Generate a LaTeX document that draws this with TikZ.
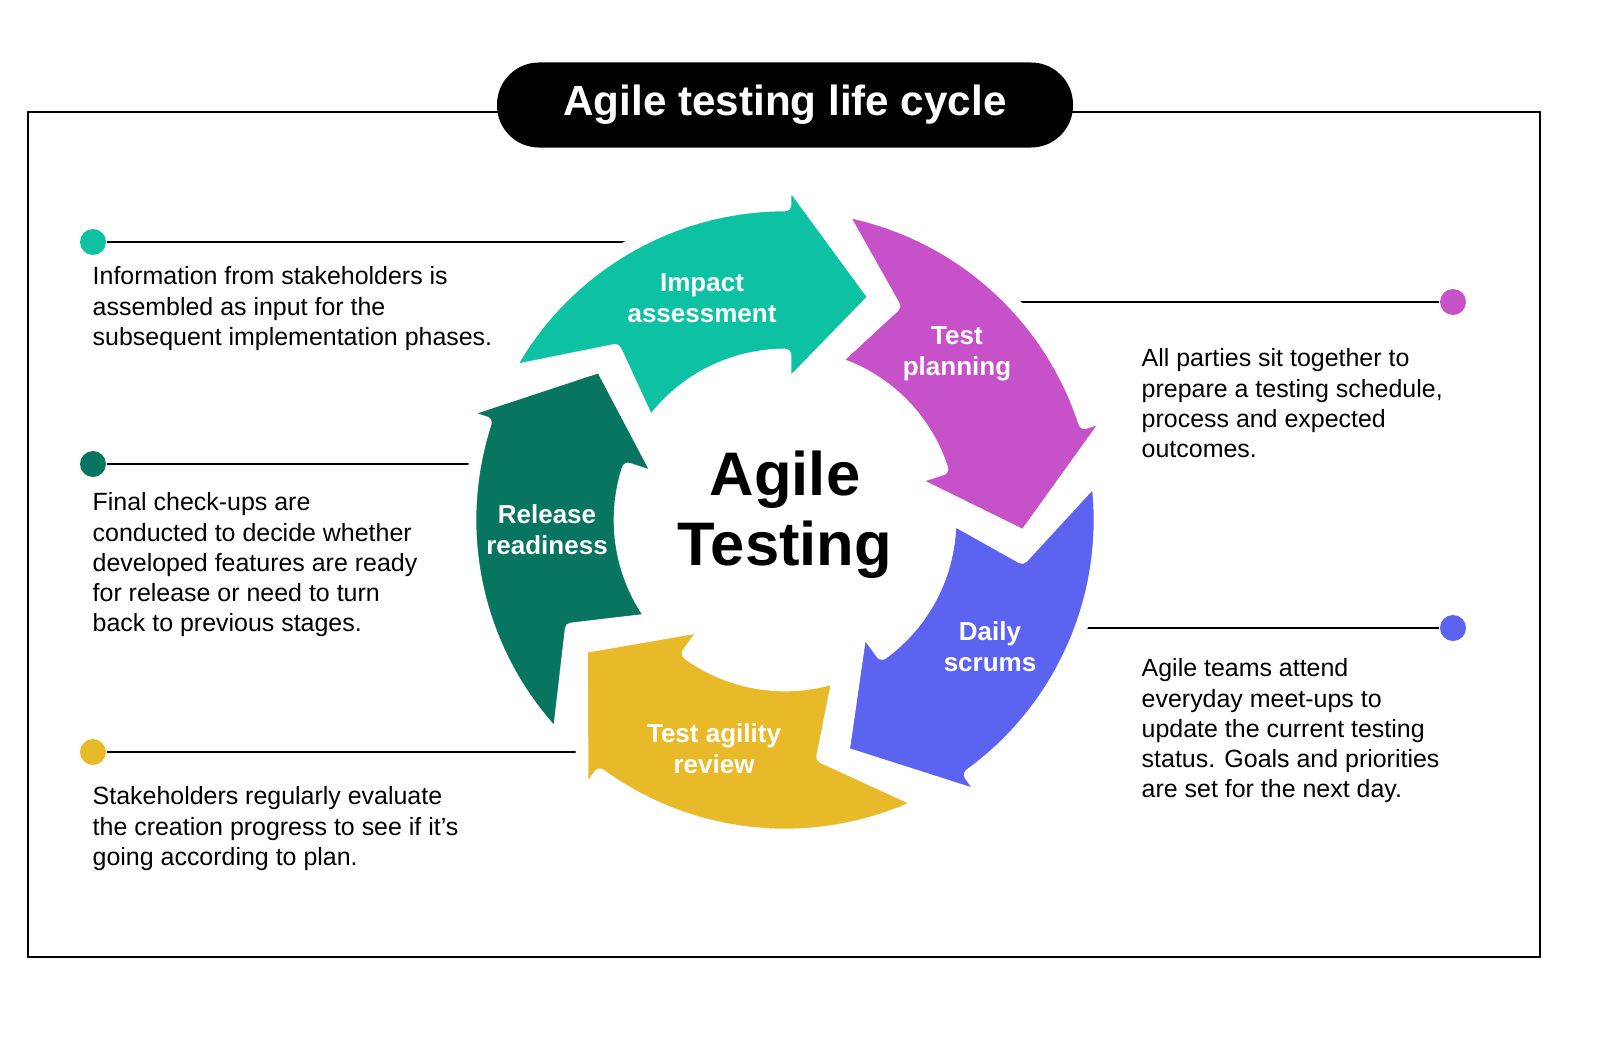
\documentclass[tikz,border=0pt]{standalone}
\usepackage{fontspec}
\setmainfont{Liberation Sans}
\begin{document}
\begin{tikzpicture}
\definecolor{cteal}{HTML}{0DC2A2}
\definecolor{cmag}{HTML}{C651C8}
\definecolor{cblue}{HTML}{5B63F0}
\definecolor{cyel}{HTML}{E8BA29}
\definecolor{cdk}{HTML}{077560}
\tikzset{
 desc/.style={anchor=north west,align=left,inner sep=0pt,font=\fontsize{7.1}{8.6}\selectfont},
 lab/.style={align=center,text=white,font=\bfseries\fontsize{7.4}{8.8}\selectfont},
 dot/.style={circle,inner sep=0pt,minimum size=0.26cm},
 lead/.style={line width=0.5pt}
}
\newcommand\agarrow[2]{\filldraw[fill=#2,draw=white,line width=3.6pt,line join=round]
 ({#1+62}:3.15) arc[start angle={#1+62},end angle={#1},radius=3.15] -- ({#1}:3.45) -- ({#1-22}:2.4) -- ({#1}:1.3) -- ({#1}:1.65) arc[start angle={#1},end angle={#1+55},radius=1.65] -- ({#1+45}:2.4) -- cycle;}
\useasboundingbox (0,0) rectangle (16,10.44);
\fill[white] (0,0) rectangle (16,10.44);
\draw[line width=0.6pt] (0.28,0.87) rectangle (15.40,9.32);
\node[fill=black,rounded corners=0.42cm,minimum width=5.76cm,minimum height=0.85cm,text=white,font=\bfseries\fontsize{12}{14}\selectfont] (title) at (7.85,9.39) {Agile testing life cycle};
% dots and leader lines
\node[dot,fill=cteal] (d1) at (0.93,8.02) {};
\coordinate (e1) at (6.4,8.02);
\draw[lead] (d1) -- (e1);
\node[dot,fill=cdk] (d2) at (0.93,5.80) {};
\coordinate (e2) at (4.8,5.80);
\draw[lead] (d2) -- (e2);
\node[dot,fill=cyel] (d3) at (0.93,2.92) {};
\coordinate (e3) at (5.8,2.92);
\draw[lead] (d3) -- (e3);
\node[dot,fill=cmag] (d4) at (14.53,7.42) {};
\coordinate (e4) at (10.0,7.42);
\draw[lead] (d4) -- (e4);
\node[dot,fill=cblue] (d5) at (14.53,4.16) {};
\coordinate (e5) at (10.7,4.16);
\draw[lead] (d5) -- (e5);
% arrows
\begin{scope}[shift={(7.85,5.24)}]
\agarrow{162}{cdk}
\agarrow{-126}{cyel}
\agarrow{-54}{cblue}
\agarrow{18}{cmag}
\agarrow{90}{cteal}
\end{scope}
\node[lab] (l1) at (7.02,7.46) {Impact\\assessment};
\node[lab] (l2) at (9.57,6.90) {Test\\planning};
\node[lab] (l3) at (9.90,3.97) {Daily\\scrums};
\node[lab] (l4) at (7.14,2.95) {Test agility\\review};
\node[lab] (l5) at (5.47,5.14) {Release\\readiness};
\node[align=center,font=\bfseries\fontsize{17.5}{20}\selectfont] (ctr) at (7.85,5.29) {Agile\\Testing};
% descriptions
\node[desc] (t1) at (0.92,7.78) {Information from stakeholders is\\assembled as input for the\\subsequent implementation phases.};
\node[desc] (t2) at (0.92,5.52) {Final check-ups are\\conducted to decide whether\\developed features are ready\\for release or need to turn\\back to previous stages.};
\node[desc] (t3) at (0.92,2.58) {Stakeholders regularly evaluate\\the creation progress to see if it’s\\going according to plan.};
\node[desc] (t4) at (11.41,6.96) {All parties sit together to\\prepare a testing schedule,\\process and expected\\outcomes.};
\node[desc] (t5) at (11.41,3.86) {Agile teams attend\\everyday meet-ups to\\update the current testing\\status. Goals and priorities\\are set for the next day.};
\end{tikzpicture}
\end{document}
